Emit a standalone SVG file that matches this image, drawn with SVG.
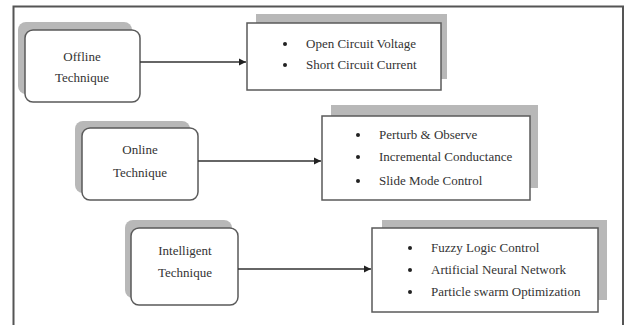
<svg xmlns="http://www.w3.org/2000/svg" width="625" height="325" viewBox="0 0 625 325">
<defs>
<style>
.frame{fill:none;stroke:#555;stroke-width:2}
.shadow{fill:#b8b8b8}
.box{fill:#fff;stroke:#5a5a5a;stroke-width:1.5}
.t{font-family:'Liberation Serif','DejaVu Serif',serif;font-size:13px;fill:#333}
.c{text-anchor:middle}
.b{fill:#222}
.edge{stroke:#333;stroke-width:1.3;fill:none;marker-end:url(#ah)}
</style>
<marker id="ah" markerWidth="8" markerHeight="8" refX="7" refY="4" orient="auto" markerUnits="userSpaceOnUse">
<path d="M0,0.5 L7,4 L0,7.5 Z" fill="#222"/>
</marker>
</defs>
<rect width="625" height="325" fill="#fff"/>
<rect class="frame" x="13.5" y="6.5" width="609.5" height="340"/>

<g id="offline">
<rect class="shadow" x="18" y="22" width="114" height="72" rx="8"/>
<rect class="box" x="25" y="30" width="115" height="72" rx="8"/>
<text class="t c" x="82" y="61">Offline</text>
<text class="t c" x="82" y="82">Technique</text>
</g>
<g id="offline-list">
<rect class="shadow" x="256" y="14" width="191" height="65"/>
<rect class="box" x="247" y="23" width="194" height="67"/>
<circle class="b" cx="285" cy="44" r="2"/><text class="t" x="306" y="48">Open Circuit Voltage</text>
<circle class="b" cx="285" cy="65" r="2"/><text class="t" x="306" y="69">Short Circuit Current</text>
</g>

<g id="online">
<rect class="shadow" x="75" y="121" width="115" height="72" rx="8"/>
<rect class="box" x="82" y="128" width="116" height="72" rx="8"/>
<text class="t c" x="140" y="154">Online</text>
<text class="t c" x="140" y="177">Technique</text>
</g>
<g id="online-list">
<rect class="shadow" x="331" y="105" width="207" height="83"/>
<rect class="box" x="322" y="116" width="208" height="84"/>
<circle class="b" cx="358" cy="135" r="2"/><text class="t" x="379" y="139">Perturb &amp; Observe</text>
<circle class="b" cx="358" cy="157" r="2"/><text class="t" x="379" y="161">Incremental Conductance</text>
<circle class="b" cx="358" cy="181" r="2"/><text class="t" x="379" y="185">Slide Mode Control</text>
</g>

<g id="intelligent">
<rect class="shadow" x="125" y="220" width="107" height="78" rx="8"/>
<rect class="box" x="131" y="228" width="107" height="77" rx="8"/>
<text class="t c" x="185" y="255">Intelligent</text>
<text class="t c" x="185" y="277">Technique</text>
</g>
<g id="intelligent-list">
<rect class="shadow" x="382" y="220" width="225" height="80"/>
<rect class="box" x="372" y="228" width="226" height="84"/>
<circle class="b" cx="410" cy="248" r="2"/><text class="t" x="431" y="252">Fuzzy Logic Control</text>
<circle class="b" cx="410" cy="270" r="2"/><text class="t" x="431" y="274">Artificial Neural Network</text>
<circle class="b" cx="410" cy="292" r="2"/><text class="t" x="431" y="296">Particle swarm Optimization</text>
</g>

<g id="connectors">
<line class="edge" x1="140" y1="62" x2="246" y2="62"/>
<line class="edge" x1="198" y1="161" x2="321" y2="161"/>
<line class="edge" x1="238" y1="269" x2="371" y2="269"/>
</g>
</svg>
